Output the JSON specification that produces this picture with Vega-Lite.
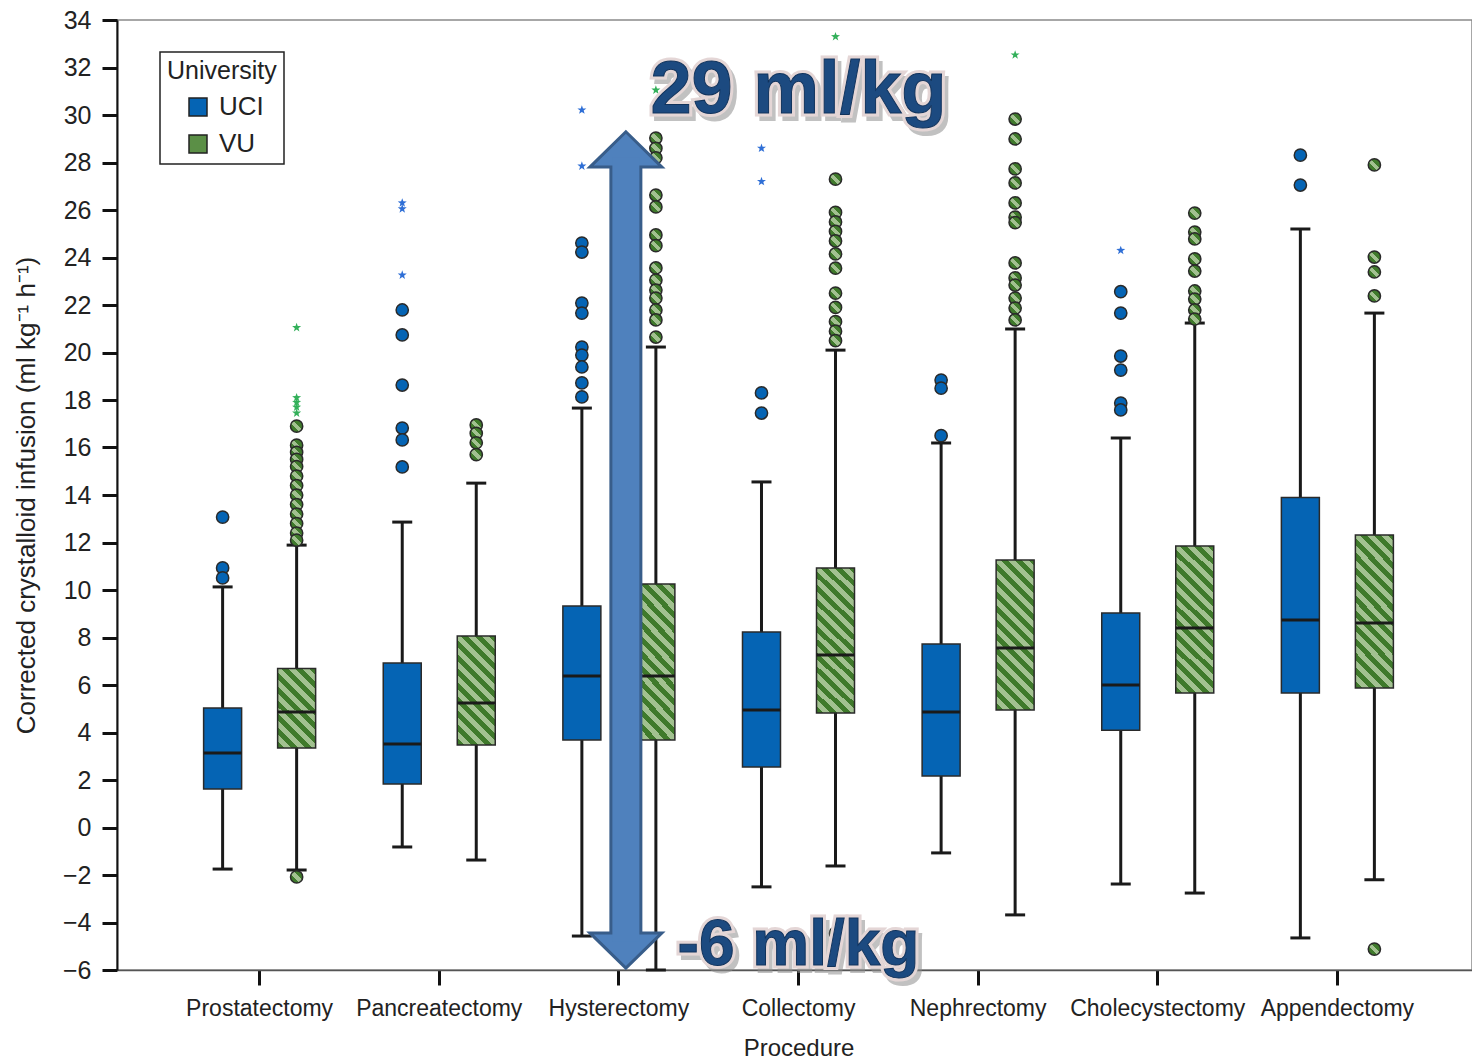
{
  "$schema": "https://vega.github.io/schema/vega-lite/v6.json",
  "width": 1355,
  "height": 950,
  "autosize": {"type": "none"},
  "padding": {"left": 117, "top": 20, "right": 0, "bottom": 89},
  "background": "white",
  "config": {
    "view": {"stroke": "#8a8a8a", "strokeWidth": 1.5},
    "font": "Liberation Sans",
    "legend": {"strokeWidth": 1.5}
  },
  "datasets": {
    "boxes": [
      {"proc": "Prostatectomy", "grp": "UCI", "lo": -1.75, "q1": 1.62, "med": 3.14, "q3": 5.03, "hi": 10.13},
      {"proc": "Prostatectomy", "grp": "VU", "lo": -1.79, "q1": 3.35, "med": 4.86, "q3": 6.7, "hi": 11.89},
      {"proc": "Pancreatectomy", "grp": "UCI", "lo": -0.82, "q1": 1.83, "med": 3.52, "q3": 6.93, "hi": 12.86},
      {"proc": "Pancreatectomy", "grp": "VU", "lo": -1.37, "q1": 3.47, "med": 5.24, "q3": 8.06, "hi": 14.5},
      {"proc": "Hysterectomy", "grp": "UCI", "lo": -4.57, "q1": 3.68, "med": 6.38, "q3": 9.33, "hi": 17.66},
      {"proc": "Hysterectomy", "grp": "VU", "lo": -6.0, "q1": 3.68, "med": 6.38, "q3": 10.25, "hi": 20.23},
      {"proc": "Collectomy", "grp": "UCI", "lo": -2.5, "q1": 2.55, "med": 4.95, "q3": 8.23, "hi": 14.55},
      {"proc": "Collectomy", "grp": "VU", "lo": -1.62, "q1": 4.82, "med": 7.26, "q3": 10.93, "hi": 20.1},
      {"proc": "Nephrectomy", "grp": "UCI", "lo": -1.07, "q1": 2.17, "med": 4.86, "q3": 7.73, "hi": 16.19},
      {"proc": "Nephrectomy", "grp": "VU", "lo": -3.68, "q1": 4.95, "med": 7.56, "q3": 11.26, "hi": 20.99},
      {"proc": "Cholecystectomy", "grp": "UCI", "lo": -2.38, "q1": 4.1, "med": 6.0, "q3": 9.03, "hi": 16.4},
      {"proc": "Cholecystectomy", "grp": "VU", "lo": -2.76, "q1": 5.66, "med": 8.4, "q3": 11.85, "hi": 21.24},
      {"proc": "Appendectomy", "grp": "UCI", "lo": -4.65, "q1": 5.66, "med": 8.74, "q3": 13.9, "hi": 25.2},
      {"proc": "Appendectomy", "grp": "VU", "lo": -2.2, "q1": 5.87, "med": 8.61, "q3": 12.32, "hi": 21.66}
    ],
    "outliers": [
      {"proc": "Prostatectomy", "grp": "UCI", "kind": "circle", "v": 13.07},
      {"proc": "Prostatectomy", "grp": "UCI", "kind": "circle", "v": 10.93},
      {"proc": "Prostatectomy", "grp": "UCI", "kind": "circle", "v": 10.51},
      {"proc": "Prostatectomy", "grp": "VU", "kind": "circle", "v": 16.9},
      {"proc": "Prostatectomy", "grp": "VU", "kind": "circle", "v": 16.1},
      {"proc": "Prostatectomy", "grp": "VU", "kind": "circle", "v": 15.8},
      {"proc": "Prostatectomy", "grp": "VU", "kind": "circle", "v": 15.5},
      {"proc": "Prostatectomy", "grp": "VU", "kind": "circle", "v": 15.2},
      {"proc": "Prostatectomy", "grp": "VU", "kind": "circle", "v": 14.8},
      {"proc": "Prostatectomy", "grp": "VU", "kind": "circle", "v": 14.4},
      {"proc": "Prostatectomy", "grp": "VU", "kind": "circle", "v": 14.0},
      {"proc": "Prostatectomy", "grp": "VU", "kind": "circle", "v": 13.6},
      {"proc": "Prostatectomy", "grp": "VU", "kind": "circle", "v": 13.2},
      {"proc": "Prostatectomy", "grp": "VU", "kind": "circle", "v": 12.8},
      {"proc": "Prostatectomy", "grp": "VU", "kind": "circle", "v": 12.4},
      {"proc": "Prostatectomy", "grp": "VU", "kind": "circle", "v": 12.1},
      {"proc": "Prostatectomy", "grp": "VU", "kind": "circle", "v": -2.08},
      {"proc": "Prostatectomy", "grp": "VU", "kind": "star", "v": 21.05},
      {"proc": "Prostatectomy", "grp": "VU", "kind": "star", "v": 18.1},
      {"proc": "Prostatectomy", "grp": "VU", "kind": "star", "v": 17.9},
      {"proc": "Prostatectomy", "grp": "VU", "kind": "star", "v": 17.7},
      {"proc": "Prostatectomy", "grp": "VU", "kind": "star", "v": 17.45},
      {"proc": "Pancreatectomy", "grp": "UCI", "kind": "circle", "v": 21.79},
      {"proc": "Pancreatectomy", "grp": "UCI", "kind": "circle", "v": 20.74},
      {"proc": "Pancreatectomy", "grp": "UCI", "kind": "circle", "v": 18.63},
      {"proc": "Pancreatectomy", "grp": "UCI", "kind": "circle", "v": 16.82},
      {"proc": "Pancreatectomy", "grp": "UCI", "kind": "circle", "v": 16.32},
      {"proc": "Pancreatectomy", "grp": "UCI", "kind": "circle", "v": 15.18},
      {"proc": "Pancreatectomy", "grp": "UCI", "kind": "star", "v": 26.3},
      {"proc": "Pancreatectomy", "grp": "UCI", "kind": "star", "v": 26.05},
      {"proc": "Pancreatectomy", "grp": "UCI", "kind": "star", "v": 23.26},
      {"proc": "Pancreatectomy", "grp": "VU", "kind": "circle", "v": 16.95},
      {"proc": "Pancreatectomy", "grp": "VU", "kind": "circle", "v": 16.6},
      {"proc": "Pancreatectomy", "grp": "VU", "kind": "circle", "v": 16.2},
      {"proc": "Pancreatectomy", "grp": "VU", "kind": "circle", "v": 15.7},
      {"proc": "Hysterectomy", "grp": "UCI", "kind": "circle", "v": 24.61},
      {"proc": "Hysterectomy", "grp": "UCI", "kind": "circle", "v": 24.23},
      {"proc": "Hysterectomy", "grp": "UCI", "kind": "circle", "v": 22.08},
      {"proc": "Hysterectomy", "grp": "UCI", "kind": "circle", "v": 21.66},
      {"proc": "Hysterectomy", "grp": "UCI", "kind": "circle", "v": 20.23},
      {"proc": "Hysterectomy", "grp": "UCI", "kind": "circle", "v": 19.89},
      {"proc": "Hysterectomy", "grp": "UCI", "kind": "circle", "v": 19.39},
      {"proc": "Hysterectomy", "grp": "UCI", "kind": "circle", "v": 18.72},
      {"proc": "Hysterectomy", "grp": "UCI", "kind": "circle", "v": 18.13},
      {"proc": "Hysterectomy", "grp": "UCI", "kind": "star", "v": 30.21},
      {"proc": "Hysterectomy", "grp": "UCI", "kind": "star", "v": 27.85},
      {"proc": "Hysterectomy", "grp": "VU", "kind": "circle", "v": 29.03},
      {"proc": "Hysterectomy", "grp": "VU", "kind": "circle", "v": 28.6},
      {"proc": "Hysterectomy", "grp": "VU", "kind": "circle", "v": 28.2},
      {"proc": "Hysterectomy", "grp": "VU", "kind": "circle", "v": 26.63},
      {"proc": "Hysterectomy", "grp": "VU", "kind": "circle", "v": 26.13},
      {"proc": "Hysterectomy", "grp": "VU", "kind": "circle", "v": 24.95},
      {"proc": "Hysterectomy", "grp": "VU", "kind": "circle", "v": 24.5},
      {"proc": "Hysterectomy", "grp": "VU", "kind": "circle", "v": 23.56},
      {"proc": "Hysterectomy", "grp": "VU", "kind": "circle", "v": 23.05},
      {"proc": "Hysterectomy", "grp": "VU", "kind": "circle", "v": 22.63},
      {"proc": "Hysterectomy", "grp": "VU", "kind": "circle", "v": 22.29},
      {"proc": "Hysterectomy", "grp": "VU", "kind": "circle", "v": 21.79},
      {"proc": "Hysterectomy", "grp": "VU", "kind": "circle", "v": 21.37},
      {"proc": "Hysterectomy", "grp": "VU", "kind": "circle", "v": 20.65},
      {"proc": "Hysterectomy", "grp": "VU", "kind": "star", "v": 31.05},
      {"proc": "Collectomy", "grp": "UCI", "kind": "circle", "v": 18.3},
      {"proc": "Collectomy", "grp": "UCI", "kind": "circle", "v": 17.45},
      {"proc": "Collectomy", "grp": "UCI", "kind": "star", "v": 28.6},
      {"proc": "Collectomy", "grp": "UCI", "kind": "star", "v": 27.2},
      {"proc": "Collectomy", "grp": "VU", "kind": "circle", "v": 27.3},
      {"proc": "Collectomy", "grp": "VU", "kind": "circle", "v": 25.9},
      {"proc": "Collectomy", "grp": "VU", "kind": "circle", "v": 25.5},
      {"proc": "Collectomy", "grp": "VU", "kind": "circle", "v": 25.1},
      {"proc": "Collectomy", "grp": "VU", "kind": "circle", "v": 24.7},
      {"proc": "Collectomy", "grp": "VU", "kind": "circle", "v": 24.15},
      {"proc": "Collectomy", "grp": "VU", "kind": "circle", "v": 23.55},
      {"proc": "Collectomy", "grp": "VU", "kind": "circle", "v": 22.5},
      {"proc": "Collectomy", "grp": "VU", "kind": "circle", "v": 21.9},
      {"proc": "Collectomy", "grp": "VU", "kind": "circle", "v": 21.3},
      {"proc": "Collectomy", "grp": "VU", "kind": "circle", "v": 20.9},
      {"proc": "Collectomy", "grp": "VU", "kind": "circle", "v": 20.5},
      {"proc": "Collectomy", "grp": "VU", "kind": "circle", "v": -4.45},
      {"proc": "Collectomy", "grp": "VU", "kind": "star", "v": 33.3},
      {"proc": "Nephrectomy", "grp": "UCI", "kind": "circle", "v": 18.84},
      {"proc": "Nephrectomy", "grp": "UCI", "kind": "circle", "v": 18.5},
      {"proc": "Nephrectomy", "grp": "UCI", "kind": "circle", "v": 16.5},
      {"proc": "Nephrectomy", "grp": "VU", "kind": "circle", "v": 29.83},
      {"proc": "Nephrectomy", "grp": "VU", "kind": "circle", "v": 28.99},
      {"proc": "Nephrectomy", "grp": "VU", "kind": "circle", "v": 27.73},
      {"proc": "Nephrectomy", "grp": "VU", "kind": "circle", "v": 27.14},
      {"proc": "Nephrectomy", "grp": "VU", "kind": "circle", "v": 26.3},
      {"proc": "Nephrectomy", "grp": "VU", "kind": "circle", "v": 25.7},
      {"proc": "Nephrectomy", "grp": "VU", "kind": "circle", "v": 25.47},
      {"proc": "Nephrectomy", "grp": "VU", "kind": "circle", "v": 23.77},
      {"proc": "Nephrectomy", "grp": "VU", "kind": "circle", "v": 23.14},
      {"proc": "Nephrectomy", "grp": "VU", "kind": "circle", "v": 22.84},
      {"proc": "Nephrectomy", "grp": "VU", "kind": "circle", "v": 22.29},
      {"proc": "Nephrectomy", "grp": "VU", "kind": "circle", "v": 21.87},
      {"proc": "Nephrectomy", "grp": "VU", "kind": "circle", "v": 21.37},
      {"proc": "Nephrectomy", "grp": "VU", "kind": "star", "v": 32.53},
      {"proc": "Cholecystectomy", "grp": "UCI", "kind": "circle", "v": 22.56},
      {"proc": "Cholecystectomy", "grp": "UCI", "kind": "circle", "v": 21.66},
      {"proc": "Cholecystectomy", "grp": "UCI", "kind": "circle", "v": 19.85},
      {"proc": "Cholecystectomy", "grp": "UCI", "kind": "circle", "v": 19.26},
      {"proc": "Cholecystectomy", "grp": "UCI", "kind": "circle", "v": 17.87},
      {"proc": "Cholecystectomy", "grp": "UCI", "kind": "circle", "v": 17.58},
      {"proc": "Cholecystectomy", "grp": "UCI", "kind": "star", "v": 24.3},
      {"proc": "Cholecystectomy", "grp": "VU", "kind": "circle", "v": 25.87},
      {"proc": "Cholecystectomy", "grp": "VU", "kind": "circle", "v": 25.07},
      {"proc": "Cholecystectomy", "grp": "VU", "kind": "circle", "v": 24.78},
      {"proc": "Cholecystectomy", "grp": "VU", "kind": "circle", "v": 23.94},
      {"proc": "Cholecystectomy", "grp": "VU", "kind": "circle", "v": 23.43},
      {"proc": "Cholecystectomy", "grp": "VU", "kind": "circle", "v": 22.59},
      {"proc": "Cholecystectomy", "grp": "VU", "kind": "circle", "v": 22.25},
      {"proc": "Cholecystectomy", "grp": "VU", "kind": "circle", "v": 21.79},
      {"proc": "Cholecystectomy", "grp": "VU", "kind": "circle", "v": 21.41},
      {"proc": "Appendectomy", "grp": "UCI", "kind": "circle", "v": 28.31},
      {"proc": "Appendectomy", "grp": "UCI", "kind": "circle", "v": 27.05},
      {"proc": "Appendectomy", "grp": "VU", "kind": "circle", "v": 27.9},
      {"proc": "Appendectomy", "grp": "VU", "kind": "circle", "v": 24.02},
      {"proc": "Appendectomy", "grp": "VU", "kind": "circle", "v": 23.39},
      {"proc": "Appendectomy", "grp": "VU", "kind": "circle", "v": 22.38},
      {"proc": "Appendectomy", "grp": "VU", "kind": "circle", "v": -5.12}
    ],
    "arrowShaft": [
      {"proc": "Hysterectomy", "part": "outer", "top": 27.85, "bottom": -4.44},
      {"proc": "Hysterectomy", "part": "inner", "top": 28.2, "bottom": -4.8}
    ],
    "arrowHeads": [
      {"proc": "Hysterectomy", "dir": "up", "v": 28.55},
      {"proc": "Hysterectomy", "dir": "down", "v": -5.18}
    ],
    "notes": [
      {"proc": "Collectomy", "v": 31.0, "label": "29 ml/kg"},
      {"proc": "Collectomy", "v": -5.0, "label": "-6 ml/kg"}
    ]
  },
  "encoding": {
    "x": {
      "field": "proc",
      "type": "nominal",
      "sort": ["Prostatectomy", "Pancreatectomy", "Hysterectomy", "Collectomy", "Nephrectomy", "Cholecystectomy", "Appendectomy"],
      "scale": {
        "domain": ["Prostatectomy", "Pancreatectomy", "Hysterectomy", "Collectomy", "Nephrectomy", "Cholecystectomy", "Appendectomy"],
        "range": [0, 1363],
        "paddingOuter": 0.294,
        "paddingInner": 0
      },
      "axis": {
        "title": "Procedure",
        "labelAngle": 0,
        "labelFontSize": 23,
        "labelColor": "#222",
        "labelFont": "Liberation Sans",
        "labelPadding": 12,
        "domainColor": "#555",
        "domainWidth": 1.5,
        "tickColor": "#111",
        "tickWidth": 3,
        "tickSize": 15,
        "titleFontSize": 24,
        "titleFontWeight": "normal",
        "titleColor": "#222",
        "titleFont": "Liberation Sans",
        "titlePadding": 16
      }
    }
  },
  "layer": [
    {
      "data": {"name": "boxes"},
      "mark": {"type": "rule", "color": "#1a1a1a", "strokeWidth": 3},
      "encoding": {
        "xOffset": {"field": "grp", "type": "nominal", "scale": {"domain": ["UCI", "VU"], "paddingOuter": 0.2135, "paddingInner": 0}},
        "y": {
          "field": "lo",
          "type": "quantitative",
          "title": "Corrected crystalloid infusion (ml kg⁻¹ h⁻¹)",
          "scale": {"domain": [-6, 34], "nice": false, "zero": false},
          "axis": {
            "title": "Corrected crystalloid infusion (ml kg⁻¹ h⁻¹)",
            "values": [-6, -4, -2, 0, 2, 4, 6, 8, 10, 12, 14, 16, 18, 20, 22, 24, 26, 28, 30, 32, 34],
            "grid": false,
            "domainColor": "#111",
            "domainWidth": 2,
            "tickColor": "#111",
            "tickWidth": 3,
            "tickSize": 15,
            "labelFontSize": 25,
            "labelColor": "#222",
            "labelFont": "Liberation Sans",
            "labelPadding": 11,
            "titleFontSize": 26,
            "titleFontWeight": "normal",
            "titleColor": "#222",
            "titleFont": "Liberation Sans",
            "titleAngle": -90,
            "titleX": -83,
            "titleY": 475,
            "titleAlign": "center",
            "titleBaseline": "alphabetic"
          }
        },
        "y2": {"field": "hi"}
      }
    },
    {
      "data": {"name": "boxes"},
      "mark": {"type": "tick", "color": "#1a1a1a", "thickness": 3, "size": 20, "opacity": 1},
      "encoding": {
        "xOffset": {"field": "grp", "type": "nominal", "scale": {"domain": ["UCI", "VU"], "paddingOuter": 0.2135, "paddingInner": 0}},
        "y": {"field": "lo", "type": "quantitative"}
      }
    },
    {
      "data": {"name": "boxes"},
      "mark": {"type": "tick", "color": "#1a1a1a", "thickness": 3, "size": 20, "opacity": 1},
      "encoding": {
        "xOffset": {"field": "grp", "type": "nominal", "scale": {"domain": ["UCI", "VU"], "paddingOuter": 0.2135, "paddingInner": 0}},
        "y": {"field": "hi", "type": "quantitative"}
      }
    },
    {
      "data": {"name": "boxes"},
      "transform": [{"filter": "datum.grp === 'UCI'"}],
      "mark": {"type": "bar", "width": 38, "stroke": "#2a2a2a", "strokeWidth": 1.5, "opacity": 1},
      "encoding": {
        "xOffset": {"field": "grp", "type": "nominal", "scale": {"domain": ["UCI", "VU"], "paddingOuter": 0.2135, "paddingInner": 0}},
        "y": {"field": "q1", "type": "quantitative"},
        "y2": {"field": "q3"},
        "color": {
          "field": "grp",
          "type": "nominal",
          "scale": {"domain": ["UCI", "VU"], "range": ["#0564b4", "#5b8f46"]},
          "legend": {
            "title": "University",
            "orient": "none",
            "legendX": 43,
            "legendY": 32,
            "direction": "vertical",
            "fillColor": "white",
            "strokeColor": "#222",
            "padding": 7,
            "titleFontSize": 25,
            "titleFontWeight": "normal",
            "titleColor": "#222",
            "titleFont": "Liberation Sans",
            "titlePadding": 10,
            "labelFontSize": 26,
            "labelColor": "#222",
            "labelFont": "Liberation Sans",
            "labelOffset": 8,
            "symbolType": "square",
            "symbolSize": 324,
            "symbolStrokeColor": "#222",
            "symbolStrokeWidth": 1.5,
            "symbolOffset": 18,
            "rowPadding": 11
          }
        }
      }
    },
    {
      "data": {"name": "boxes"},
      "transform": [{"filter": "datum.grp === 'VU'"}, {"filter": {"field": "proc", "oneOf": ["Hysterectomy", "Collectomy", "Nephrectomy", "Cholecystectomy", "Appendectomy"]}}],
      "mark": {"type": "bar", "width": 38, "stroke": "#2a2a2a", "strokeWidth": 1.5, "opacity": 1,
        "color": {"gradient": "linear", "x1": 0, "y1": 1, "x2": 0.3777, "y2": -0.491, "stops": [
          {"offset": 0, "color": "#3f7a2b"},
          {"offset": 0.0294, "color": "#3f7a2b"}, {"offset": 0.0294, "color": "#a2c190"},
          {"offset": 0.0588, "color": "#a2c190"}, {"offset": 0.0588, "color": "#3f7a2b"},
          {"offset": 0.0882, "color": "#3f7a2b"}, {"offset": 0.0882, "color": "#a2c190"},
          {"offset": 0.1176, "color": "#a2c190"}, {"offset": 0.1176, "color": "#3f7a2b"},
          {"offset": 0.1471, "color": "#3f7a2b"}, {"offset": 0.1471, "color": "#a2c190"},
          {"offset": 0.1765, "color": "#a2c190"}, {"offset": 0.1765, "color": "#3f7a2b"},
          {"offset": 0.2059, "color": "#3f7a2b"}, {"offset": 0.2059, "color": "#a2c190"},
          {"offset": 0.2353, "color": "#a2c190"}, {"offset": 0.2353, "color": "#3f7a2b"},
          {"offset": 0.2647, "color": "#3f7a2b"}, {"offset": 0.2647, "color": "#a2c190"},
          {"offset": 0.2941, "color": "#a2c190"}, {"offset": 0.2941, "color": "#3f7a2b"},
          {"offset": 0.3235, "color": "#3f7a2b"}, {"offset": 0.3235, "color": "#a2c190"},
          {"offset": 0.3529, "color": "#a2c190"}, {"offset": 0.3529, "color": "#3f7a2b"},
          {"offset": 0.3824, "color": "#3f7a2b"}, {"offset": 0.3824, "color": "#a2c190"},
          {"offset": 0.4118, "color": "#a2c190"}, {"offset": 0.4118, "color": "#3f7a2b"},
          {"offset": 0.4412, "color": "#3f7a2b"}, {"offset": 0.4412, "color": "#a2c190"},
          {"offset": 0.4706, "color": "#a2c190"}, {"offset": 0.4706, "color": "#3f7a2b"},
          {"offset": 0.5, "color": "#3f7a2b"}, {"offset": 0.5, "color": "#a2c190"},
          {"offset": 0.5294, "color": "#a2c190"}, {"offset": 0.5294, "color": "#3f7a2b"},
          {"offset": 0.5588, "color": "#3f7a2b"}, {"offset": 0.5588, "color": "#a2c190"},
          {"offset": 0.5882, "color": "#a2c190"}, {"offset": 0.5882, "color": "#3f7a2b"},
          {"offset": 0.6176, "color": "#3f7a2b"}, {"offset": 0.6176, "color": "#a2c190"},
          {"offset": 0.6471, "color": "#a2c190"}, {"offset": 0.6471, "color": "#3f7a2b"},
          {"offset": 0.6765, "color": "#3f7a2b"}, {"offset": 0.6765, "color": "#a2c190"},
          {"offset": 0.7059, "color": "#a2c190"}, {"offset": 0.7059, "color": "#3f7a2b"},
          {"offset": 0.7353, "color": "#3f7a2b"}, {"offset": 0.7353, "color": "#a2c190"},
          {"offset": 0.7647, "color": "#a2c190"}, {"offset": 0.7647, "color": "#3f7a2b"},
          {"offset": 0.7941, "color": "#3f7a2b"}, {"offset": 0.7941, "color": "#a2c190"},
          {"offset": 0.8235, "color": "#a2c190"}, {"offset": 0.8235, "color": "#3f7a2b"},
          {"offset": 0.8529, "color": "#3f7a2b"}, {"offset": 0.8529, "color": "#a2c190"},
          {"offset": 0.8824, "color": "#a2c190"}, {"offset": 0.8824, "color": "#3f7a2b"},
          {"offset": 1, "color": "#3f7a2b"}
        ]}
      },
      "encoding": {
        "xOffset": {"field": "grp", "type": "nominal", "scale": {"domain": ["UCI", "VU"], "paddingOuter": 0.2135, "paddingInner": 0}},
        "y": {"field": "q1", "type": "quantitative"},
        "y2": {"field": "q3"}
      }
    },
    {
      "data": {"name": "boxes"},
      "transform": [{"filter": "datum.grp === 'VU'"}, {"filter": {"field": "proc", "equal": "Prostatectomy"}}],
      "mark": {"type": "bar", "width": 38, "stroke": "#2a2a2a", "strokeWidth": 1.5, "opacity": 1,
        "color": {"gradient": "linear", "x1": 0, "y1": 1, "x2": 1.1298, "y2": -1.408, "stops": [
          {"offset": 0, "color": "#3f7a2b"},
          {"offset": 0.0294, "color": "#3f7a2b"}, {"offset": 0.0294, "color": "#a2c190"},
          {"offset": 0.0588, "color": "#a2c190"}, {"offset": 0.0588, "color": "#3f7a2b"},
          {"offset": 0.0882, "color": "#3f7a2b"}, {"offset": 0.0882, "color": "#a2c190"},
          {"offset": 0.1176, "color": "#a2c190"}, {"offset": 0.1176, "color": "#3f7a2b"},
          {"offset": 0.1471, "color": "#3f7a2b"}, {"offset": 0.1471, "color": "#a2c190"},
          {"offset": 0.1765, "color": "#a2c190"}, {"offset": 0.1765, "color": "#3f7a2b"},
          {"offset": 0.2059, "color": "#3f7a2b"}, {"offset": 0.2059, "color": "#a2c190"},
          {"offset": 0.2353, "color": "#a2c190"}, {"offset": 0.2353, "color": "#3f7a2b"},
          {"offset": 0.2647, "color": "#3f7a2b"}, {"offset": 0.2647, "color": "#a2c190"},
          {"offset": 0.2941, "color": "#a2c190"}, {"offset": 0.2941, "color": "#3f7a2b"},
          {"offset": 0.3235, "color": "#3f7a2b"}, {"offset": 0.3235, "color": "#a2c190"},
          {"offset": 0.3529, "color": "#a2c190"}, {"offset": 0.3529, "color": "#3f7a2b"},
          {"offset": 0.3824, "color": "#3f7a2b"}, {"offset": 0.3824, "color": "#a2c190"},
          {"offset": 0.4118, "color": "#a2c190"}, {"offset": 0.4118, "color": "#3f7a2b"},
          {"offset": 0.4412, "color": "#3f7a2b"}, {"offset": 0.4412, "color": "#a2c190"},
          {"offset": 0.4706, "color": "#a2c190"}, {"offset": 0.4706, "color": "#3f7a2b"},
          {"offset": 0.5, "color": "#3f7a2b"}, {"offset": 0.5, "color": "#a2c190"},
          {"offset": 0.5294, "color": "#a2c190"}, {"offset": 0.5294, "color": "#3f7a2b"},
          {"offset": 1, "color": "#3f7a2b"}
        ]}
      },
      "encoding": {
        "xOffset": {"field": "grp", "type": "nominal", "scale": {"domain": ["UCI", "VU"], "paddingOuter": 0.2135, "paddingInner": 0}},
        "y": {"field": "q1", "type": "quantitative"},
        "y2": {"field": "q3"}
      }
    },
    {
      "data": {"name": "boxes"},
      "transform": [{"filter": "datum.grp === 'VU'"}, {"filter": {"field": "proc", "equal": "Pancreatectomy"}}],
      "mark": {"type": "bar", "width": 38, "stroke": "#2a2a2a", "strokeWidth": 1.5, "opacity": 1,
        "color": {"gradient": "linear", "x1": 0, "y1": 1, "x2": 0.6787, "y2": -0.9468, "stops": [
          {"offset": 0, "color": "#3f7a2b"},
          {"offset": 0.0294, "color": "#3f7a2b"}, {"offset": 0.0294, "color": "#a2c190"},
          {"offset": 0.0588, "color": "#a2c190"}, {"offset": 0.0588, "color": "#3f7a2b"},
          {"offset": 0.0882, "color": "#3f7a2b"}, {"offset": 0.0882, "color": "#a2c190"},
          {"offset": 0.1176, "color": "#a2c190"}, {"offset": 0.1176, "color": "#3f7a2b"},
          {"offset": 0.1471, "color": "#3f7a2b"}, {"offset": 0.1471, "color": "#a2c190"},
          {"offset": 0.1765, "color": "#a2c190"}, {"offset": 0.1765, "color": "#3f7a2b"},
          {"offset": 0.2059, "color": "#3f7a2b"}, {"offset": 0.2059, "color": "#a2c190"},
          {"offset": 0.2353, "color": "#a2c190"}, {"offset": 0.2353, "color": "#3f7a2b"},
          {"offset": 0.2647, "color": "#3f7a2b"}, {"offset": 0.2647, "color": "#a2c190"},
          {"offset": 0.2941, "color": "#a2c190"}, {"offset": 0.2941, "color": "#3f7a2b"},
          {"offset": 0.3235, "color": "#3f7a2b"}, {"offset": 0.3235, "color": "#a2c190"},
          {"offset": 0.3529, "color": "#a2c190"}, {"offset": 0.3529, "color": "#3f7a2b"},
          {"offset": 0.3824, "color": "#3f7a2b"}, {"offset": 0.3824, "color": "#a2c190"},
          {"offset": 0.4118, "color": "#a2c190"}, {"offset": 0.4118, "color": "#3f7a2b"},
          {"offset": 0.4412, "color": "#3f7a2b"}, {"offset": 0.4412, "color": "#a2c190"},
          {"offset": 0.4706, "color": "#a2c190"}, {"offset": 0.4706, "color": "#3f7a2b"},
          {"offset": 0.5, "color": "#3f7a2b"}, {"offset": 0.5, "color": "#a2c190"},
          {"offset": 0.5294, "color": "#a2c190"}, {"offset": 0.5294, "color": "#3f7a2b"},
          {"offset": 0.5588, "color": "#3f7a2b"}, {"offset": 0.5588, "color": "#a2c190"},
          {"offset": 0.5882, "color": "#a2c190"}, {"offset": 0.5882, "color": "#3f7a2b"},
          {"offset": 0.6176, "color": "#3f7a2b"}, {"offset": 0.6176, "color": "#a2c190"},
          {"offset": 0.6471, "color": "#a2c190"}, {"offset": 0.6471, "color": "#3f7a2b"},
          {"offset": 0.6765, "color": "#3f7a2b"}, {"offset": 0.6765, "color": "#a2c190"},
          {"offset": 1, "color": "#a2c190"}
        ]}
      },
      "encoding": {
        "xOffset": {"field": "grp", "type": "nominal", "scale": {"domain": ["UCI", "VU"], "paddingOuter": 0.2135, "paddingInner": 0}},
        "y": {"field": "q1", "type": "quantitative"},
        "y2": {"field": "q3"}
      }
    },
    {
      "data": {"name": "boxes"},
      "mark": {"type": "tick", "color": "#1a1a1a", "thickness": 3, "size": 38, "opacity": 1},
      "encoding": {
        "xOffset": {"field": "grp", "type": "nominal", "scale": {"domain": ["UCI", "VU"], "paddingOuter": 0.2135, "paddingInner": 0}},
        "y": {"field": "med", "type": "quantitative"}
      }
    },
    {
      "data": {"name": "outliers"},
      "transform": [{"filter": "datum.grp === 'UCI' && datum.kind === 'circle'"}],
      "mark": {"type": "point", "shape": "circle", "filled": true, "fill": "#0564b4", "stroke": "#2a2a2a", "strokeWidth": 1.5, "size": 150, "opacity": 1},
      "encoding": {
        "xOffset": {"field": "grp", "type": "nominal", "scale": {"domain": ["UCI", "VU"], "paddingOuter": 0.2135, "paddingInner": 0}},
        "y": {"field": "v", "type": "quantitative"}
      }
    },
    {
      "data": {"name": "outliers"},
      "transform": [{"filter": "datum.grp === 'VU' && datum.kind === 'circle'"}],
      "mark": {"type": "point", "shape": "circle", "filled": true, "stroke": "#2a2a2a", "strokeWidth": 1.5, "size": 150, "opacity": 1,
        "color": {"gradient": "linear", "x1": 0, "y1": 1, "x2": 1, "y2": 0, "stops": [
          {"offset": 0, "color": "#3f7a2b"}, {"offset": 0.38, "color": "#3f7a2b"},
          {"offset": 0.38, "color": "#a2c190"}, {"offset": 0.6, "color": "#a2c190"},
          {"offset": 0.6, "color": "#3f7a2b"}, {"offset": 1, "color": "#3f7a2b"}
        ]}
      },
      "encoding": {
        "xOffset": {"field": "grp", "type": "nominal", "scale": {"domain": ["UCI", "VU"], "paddingOuter": 0.2135, "paddingInner": 0}},
        "y": {"field": "v", "type": "quantitative"}
      }
    },
    {
      "data": {"name": "outliers"},
      "transform": [{"filter": "datum.grp === 'UCI' && datum.kind === 'star'"}],
      "mark": {"type": "point", "shape": "M0,-1L0.235,-0.324L0.951,-0.309L0.38,0.124L0.588,0.809L0,0.4L-0.588,0.809L-0.38,0.124L-0.951,-0.309L-0.235,-0.324Z", "filled": true, "color": "#2f6fd6", "size": 90, "opacity": 1},
      "encoding": {
        "xOffset": {"field": "grp", "type": "nominal", "scale": {"domain": ["UCI", "VU"], "paddingOuter": 0.2135, "paddingInner": 0}},
        "y": {"field": "v", "type": "quantitative"}
      }
    },
    {
      "data": {"name": "outliers"},
      "transform": [{"filter": "datum.grp === 'VU' && datum.kind === 'star'"}],
      "mark": {"type": "point", "shape": "M0,-1L0.235,-0.324L0.951,-0.309L0.38,0.124L0.588,0.809L0,0.4L-0.588,0.809L-0.38,0.124L-0.951,-0.309L-0.235,-0.324Z", "filled": true, "color": "#33b05a", "size": 90, "opacity": 1},
      "encoding": {
        "xOffset": {"field": "grp", "type": "nominal", "scale": {"domain": ["UCI", "VU"], "paddingOuter": 0.2135, "paddingInner": 0}},
        "y": {"field": "v", "type": "quantitative"}
      }
    },
    {
      "data": {"name": "arrowShaft"},
      "transform": [{"filter": "datum.part === 'outer'"}],
      "mark": {"type": "rule", "color": "#385d8a", "strokeWidth": 33, "xOffset": 7},
      "encoding": {
        "y": {"field": "top", "type": "quantitative"},
        "y2": {"field": "bottom"}
      }
    },
    {
      "data": {"name": "arrowHeads"},
      "transform": [{"filter": "datum.dir === 'up'"}],
      "mark": {"type": "point", "shape": "M-1,0.49L1,0.49L0,-0.49Z", "filled": true, "fill": "#4f81bd", "stroke": "#385d8a", "strokeWidth": 3, "size": 5184, "opacity": 1, "xOffset": 7},
      "encoding": {
        "y": {"field": "v", "type": "quantitative"}
      }
    },
    {
      "data": {"name": "arrowHeads"},
      "transform": [{"filter": "datum.dir === 'down'"}],
      "mark": {"type": "point", "shape": "M-1,-0.49L1,-0.49L0,0.49Z", "filled": true, "fill": "#4f81bd", "stroke": "#385d8a", "strokeWidth": 3, "size": 5184, "opacity": 1, "xOffset": 7},
      "encoding": {
        "y": {"field": "v", "type": "quantitative"}
      }
    },
    {
      "data": {"name": "arrowShaft"},
      "transform": [{"filter": "datum.part === 'inner'"}],
      "mark": {"type": "rule", "color": "#4f81bd", "strokeWidth": 27, "xOffset": 7},
      "encoding": {
        "y": {"field": "top", "type": "quantitative"},
        "y2": {"field": "bottom"}
      }
    },
    {
      "data": {"name": "notes"},
      "mark": {"type": "text", "font": "Liberation Sans", "fontWeight": "bold", "align": "center", "baseline": "middle", "fill": "#8f8f8f", "stroke": "#8f8f8f", "strokeWidth": 6, "opacity": 0.55, "dx": 4, "dy": 5},
      "encoding": {
        "y": {"field": "v", "type": "quantitative"},
        "text": {"field": "label"},
        "size": {"field": "label", "type": "nominal", "scale": {"domain": ["29 ml/kg", "-6 ml/kg"], "range": [74, 64]}, "legend": null}
      }
    },
    {
      "data": {"name": "notes"},
      "mark": {"type": "text", "font": "Liberation Sans", "fontWeight": "bold", "align": "center", "baseline": "middle", "fill": "#f4eded", "stroke": "#e4d6d6", "strokeWidth": 7},
      "encoding": {
        "y": {"field": "v", "type": "quantitative"},
        "text": {"field": "label"},
        "size": {"field": "label", "type": "nominal", "scale": {"domain": ["29 ml/kg", "-6 ml/kg"], "range": [74, 64]}, "legend": null}
      }
    },
    {
      "data": {"name": "notes"},
      "mark": {"type": "text", "font": "Liberation Sans", "fontWeight": "bold", "align": "center", "baseline": "middle", "fill": "#1c4a80", "stroke": "#11335c", "strokeWidth": 1},
      "encoding": {
        "y": {"field": "v", "type": "quantitative"},
        "text": {"field": "label"},
        "size": {"field": "label", "type": "nominal", "scale": {"domain": ["29 ml/kg", "-6 ml/kg"], "range": [74, 64]}, "legend": null}
      }
    }
  ]
}
